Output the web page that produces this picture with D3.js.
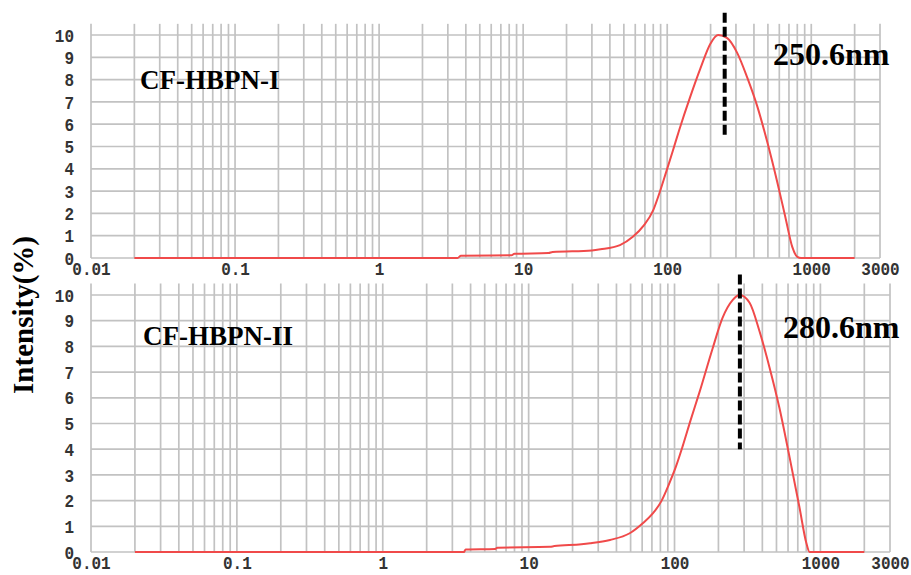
<!DOCTYPE html>
<html>
<head>
<meta charset="utf-8">
<script src="https://cdn.jsdelivr.net/npm/d3@7"></script>
<style>
  body { margin: 0; background: #fff; }
  svg { display: block; }
</style>
</head>
<body>
<svg id="chart"></svg>
<script>
const width = 911;
const height = 575;

// particle size (nm) and intensity (%)
const sizes1 = [0.02, 3.5, 3.7, 8.3, 8.7, 15, 16, 30, 34.4, 47, 58, 68.6, 80, 88.7, 98.3, 109.3, 121.3, 144, 170, 199, 226, 261, 306, 359, 422, 495, 581, 660, 738, 800, 850, 2000];
const intensity1 = [0, 0, 0.1, 0.12, 0.19, 0.22, 0.27, 0.34, 0.39, 0.58, 0.96, 1.45, 2.15, 2.95, 3.85, 4.8, 5.75, 7.2, 8.5, 9.6, 10, 9.86, 9.2, 8.1, 6.8, 5.2, 3.4, 1.85, 0.5, 0.05, 0, 0];

const sizes2 = [0.02, 3.6, 3.7, 5.9, 6.1, 14, 15, 23, 26.4, 36.1, 49.3, 60.6, 71, 80.9, 92.1, 102.2, 113.5, 129.1, 148, 182, 213, 250, 279, 327, 382, 447, 524, 614, 718, 801, 843, 2000];
const intensity2 = [0, 0, 0.1, 0.12, 0.17, 0.2, 0.23, 0.3, 0.34, 0.47, 0.73, 1.12, 1.5, 1.96, 2.67, 3.32, 4.1, 5.14, 6.2, 7.9, 9.1, 9.8, 10, 9.7, 8.6, 7.2, 5.6, 3.7, 1.75, 0.35, 0, 0];

const sampleNames = ["CF-HBPN-I", "CF-HBPN-II"];
const peakSizes = [250.6, 280.6];
const peakLabels = ["250.6nm", "280.6nm"];

const xTickValues = [0.01, 0.1, 1, 10, 100, 1000, 3000];
const yTickValues = [0, 1, 2, 3, 4, 5, 6, 7, 8, 9, 10];

// vertical grid: 1..9 of every decade, up to 3000
const xGrid = [];
[0.01, 0.1, 1, 10, 100, 1000].forEach((dec) => {
  for (let k = 1; k <= 9; k++) {
    const v = +(k * dec).toPrecision(3);
    if (v <= 3000) xGrid.push(v);
  }
});

const svg = d3.select("#chart").attr("width", width).attr("height", height);

const panels = [
  { sizes: sizes1, values: intensity1, x0: 91, x1: 880, yBottom: 258, yTop: 35, gridTop: 10.5, dash: [11, 5.4],
    name: sampleNames[0], nameX: 140, nameY: 89, peak: peakSizes[0], label: peakLabels[0], labelX: 773, labelY: 65 },
  { sizes: sizes2, values: intensity2, x0: 91, x1: 890, yBottom: 552, yTop: 295, gridTop: 10.45, dash: [10.8, 4],
    name: sampleNames[1], nameX: 143, nameY: 345, peak: peakSizes[1], label: peakLabels[1], labelX: 783, labelY: 338 }
];

panels.forEach((p) => {
  const x = d3.scaleLog().domain([0.01, 3000]).range([p.x0, p.x1]);
  const y = d3.scaleLinear().domain([0, 10]).range([p.yBottom, p.yTop]);
  const g = svg.append("g");

  // grid
  g.selectAll("line.vg")
    .data(xGrid)
    .join("line")
    .attr("x1", (d) => x(d))
    .attr("x2", (d) => x(d))
    .attr("y1", y(0))
    .attr("y2", y(p.gridTop))
    .attr("stroke", "#c2c2c2")
    .attr("stroke-width", 1.7);

  g.selectAll("line.hg")
    .data(yTickValues)
    .join("line")
    .attr("x1", x(0.01))
    .attr("x2", x(3000))
    .attr("y1", (d) => y(d))
    .attr("y2", (d) => y(d))
    .attr("stroke", "#c2c2c2")
    .attr("stroke-width", 1.7);

  // y axis
  const ya = g.append("g")
    .attr("transform", `translate(${x(0.01)},0)`)
    .call(d3.axisLeft(y).tickValues(yTickValues).tickSize(0).tickPadding(17));
  ya.select(".domain").remove();

  // x axis
  const xa = g.append("g")
    .attr("transform", `translate(0,${y(0)})`)
    .call(d3.axisBottom(x).tickValues(xTickValues).tickFormat((d) => String(d)).tickSize(0).tickPadding(3));
  xa.select(".domain").remove();

  // tall, narrow digits like the instrument software
  g.selectAll(".tick text")
    .attr("font-family", "'Liberation Mono', monospace")
    .attr("font-weight", "bold")
    .attr("font-size", 16)
    .attr("fill", "#333")
    .attr("transform", "scale(1,1.2)");

  // curve
  const pts = p.sizes.map((s, i) => [s, p.values[i]]);
  g.append("path")
    .datum(pts)
    .attr("fill", "none")
    .attr("stroke", "#f04a4a")
    .attr("stroke-width", 2)
    .attr("d", d3.line().x((d) => x(d[0])).y((d) => y(d[1])).curve(d3.curveMonotoneX));

  // peak marker
  g.append("line")
    .attr("x1", x(p.peak))
    .attr("x2", x(p.peak))
    .attr("y1", y(p.dash[0]))
    .attr("y2", y(p.dash[1]))
    .attr("stroke", "#000")
    .attr("stroke-width", 4)
    .attr("stroke-dasharray", "10,4");

  g.append("text")
    .attr("x", p.nameX)
    .attr("y", p.nameY)
    .attr("font-family", "'Liberation Serif', 'Times New Roman', serif")
    .attr("font-weight", "bold")
    .attr("font-size", 27)
    .text(p.name);

  g.append("text")
    .attr("x", p.labelX)
    .attr("y", p.labelY)
    .attr("font-family", "'Liberation Serif', 'Times New Roman', serif")
    .attr("font-weight", "bold")
    .attr("font-size", 32)
    .text(p.label);
});

// y axis title
svg.append("text")
  .attr("transform", "translate(33,315) rotate(-90)")
  .attr("text-anchor", "middle")
  .attr("font-family", "'Liberation Serif', 'Times New Roman', serif")
  .attr("font-weight", "bold")
  .attr("font-size", 29)
  .text("Intensity(%)");
</script>
</body>
</html>
